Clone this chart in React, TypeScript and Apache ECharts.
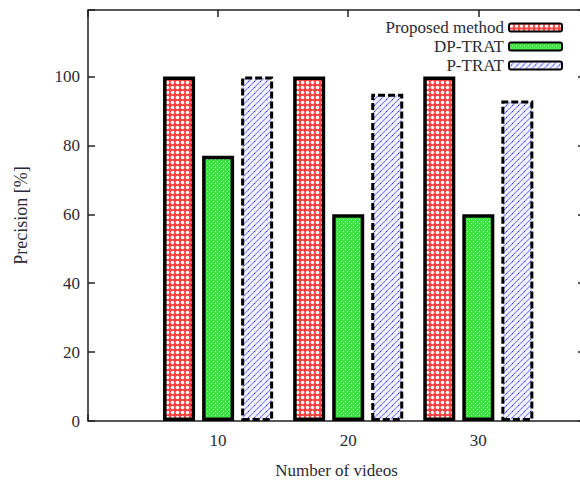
import React, { useEffect, useRef } from "react";
import * as echarts from "echarts";

const categories = [10, 20, 30];
const proposed = [100, 100, 100];
const dpTrat = [77, 60, 60];
const pTrat = [100, 95, 93];
const seriesNames = ["Proposed method", "DP-TRAT", "P-TRAT"];

const FONT = "Liberation Serif";
const TEXT = "#2b2b38";

function makePattern(kind: string): HTMLCanvasElement {
  const c = document.createElement("canvas");
  if (kind === "red") {
    c.width = 5; c.height = 5;
    const g = c.getContext("2d")!;
    g.fillStyle = "#ff4040";
    g.fillRect(0, 0, 5, 5);
    g.fillStyle = "#ffffff";
    g.beginPath();
    g.arc(2.5, 2.5, 1.75, 0, Math.PI * 2);
    g.fill();
  } else if (kind === "green") {
    c.width = 4; c.height = 4;
    const g = c.getContext("2d")!;
    g.fillStyle = "#3fe23f";
    g.fillRect(0, 0, 4, 4);
    g.fillStyle = "#b8ffb0";
    g.fillRect(1, 1, 1, 1);
    g.fillRect(3, 3, 1, 1);
  } else {
    c.width = 6; c.height = 6;
    const g = c.getContext("2d")!;
    g.fillStyle = "#f4f4ff";
    g.fillRect(0, 0, 6, 6);
    g.strokeStyle = "#8e8eff";
    g.lineWidth = 1.2;
    g.beginPath();
    g.moveTo(-1, 7); g.lineTo(7, -1);
    g.moveTo(-1, 13); g.lineTo(13, -1);
    g.moveTo(-7, 7); g.lineTo(7, -7);
    g.stroke();
    g.fillStyle = "#3a3aff";
    g.fillRect(2, 3, 1, 1);
  }
  return c;
}

export default function App() {
  const ref = useRef<HTMLDivElement>(null);
  useEffect(() => {
    if (!ref.current) return;
    const chart = echarts.init(ref.current, undefined, { renderer: "svg" });
    const redP = { image: makePattern("red"), repeat: "repeat" };
    const greenP = { image: makePattern("green"), repeat: "repeat" };
    const blueP = { image: makePattern("blue"), repeat: "repeat" };
    const toPairs = (arr: number[]) => categories.map((c, i) => [c, arr[i]]);
    const tickStyle = { lineStyle: { color: "#222", width: 1.5 } };
    const noLine = { show: false, onZero: false };
    chart.setOption({
      animation: false,
      textStyle: { fontFamily: FONT, color: TEXT },
      grid: {
        left: 88, right: 15, top: 10, bottom: 59,
        outerBoundsMode: "none",
        containLabel: false,
        show: true, borderColor: "#222", borderWidth: 1.5, backgroundColor: "transparent",
      },
      legend: {
        orient: "vertical",
        right: 37,
        top: 19,
        padding: 0,
        align: "right",
        itemWidth: 53,
        itemHeight: 8,
        itemGap: 2,
        textStyle: { fontFamily: FONT, fontSize: 17, color: TEXT, lineHeight: 17 },
        data: seriesNames,
      },
      xAxis: [
        {
          type: "value", min: 0, max: 38.2, interval: 10,
          name: "Number of videos", nameLocation: "middle", nameGap: 41,
          nameTextStyle: { fontFamily: FONT, fontSize: 17, color: TEXT },
          axisLine: noLine,
          axisTick: { show: true, inside: true, length: 7, ...tickStyle },
          splitLine: { show: false },
          axisLabel: {
            margin: 11, fontFamily: FONT, fontSize: 17, color: TEXT,
            formatter: (v: number) => (categories.indexOf(v) >= 0 ? String(v) : ""),
          },
        },
        {
          type: "value", position: "top", min: 0, max: 38.2, interval: 10,
          axisLine: noLine,
          axisTick: { show: true, inside: true, length: 7, ...tickStyle },
          splitLine: { show: false },
          axisLabel: { show: false },
        },
      ],
      yAxis: [
        {
          type: "value", min: 0, max: 119.3, interval: 20,
          name: "Precision [%]", nameLocation: "middle", nameGap: 58, nameRotate: 90,
          nameTextStyle: { fontFamily: FONT, fontSize: 18, color: TEXT },
          axisLine: noLine,
          axisTick: { show: true, inside: true, length: 7, ...tickStyle },
          splitLine: { show: false },
          axisLabel: {
            margin: 8, fontFamily: FONT, fontSize: 17, color: TEXT,
            formatter: (v: number) => (v <= 100 && v % 20 === 0 ? String(v) : ""),
          },
        },
        {
          type: "value", position: "right", min: 0, max: 119.3, interval: 20,
          axisLine: noLine,
          axisTick: { show: true, inside: true, length: 7, ...tickStyle },
          splitLine: { show: false },
          axisLabel: { show: false },
        },
      ],
      series: [
        {
          name: seriesNames[0], type: "bar", data: toPairs(proposed),
          barWidth: 32, barGap: "22%",
          itemStyle: { color: redP, borderColor: "#000", borderWidth: 3.5 },
        },
        {
          name: seriesNames[1], type: "bar", data: toPairs(dpTrat),
          barWidth: 32, barGap: "22%",
          itemStyle: { color: greenP, borderColor: "#000", borderWidth: 3.5 },
        },
        {
          name: seriesNames[2], type: "bar", data: toPairs(pTrat),
          barWidth: 32, barGap: "22%",
          itemStyle: { color: blueP, borderColor: "#000", borderWidth: 3, borderType: [7, 3] },
        },
      ],
    });
    return () => chart.dispose();
  }, []);
  return (
    <div
      ref={ref}
      style={{ position: "fixed", left: 0, top: 0, width: 600, height: 480, background: "#fff" }}
    />
  );
}
